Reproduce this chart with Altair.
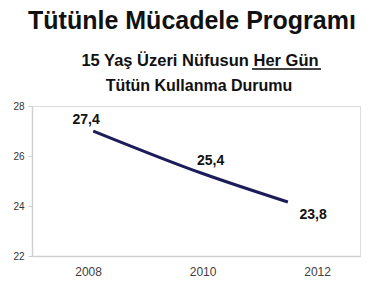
import altair as alt
import pandas as pd

# Values
line_years = [2008.09, 2010.0, 2011.49]
line_values = [27.0, 25.3, 24.16]

label_years = [2008, 2010, 2012]
label_values = [27.4, 25.4, 23.8]
label_texts = ["27,4", "25,4", "23,8"]

x_ticks = [2008, 2010, 2012]
y_ticks = [22, 24, 26, 28]

title_text = ["Tütünle Mücadele Programı"]
subtitle_1 = ["15 Yaş Üzeri Nüfusun Her Gün"]
subtitle_2 = ["Tütün Kullanma Durumu"]

line_df = pd.DataFrame({"year": line_years, "value": line_values})
label_df = pd.DataFrame({"year": label_years, "value": label_values, "text": label_texts})

FONT = "Liberation Sans"

x_scale = alt.Scale(domain=[2007.02, 2012.75], nice=False, zero=False)
y_scale = alt.Scale(domain=[22, 28], nice=False, zero=False)

x_axis = alt.Axis(values=x_ticks, format="d", title=None, grid=False, ticks=False,
                  domainColor="#d0d0d0", domainWidth=1.5, labelColor="#404040",
                  labelFontSize=12, labelFont=FONT, labelPadding=10)
y_axis = alt.Axis(values=y_ticks, title=None, grid=False, tickSize=4, tickColor="#d0d0d0",
                  domainColor="#d0d0d0", domainWidth=1.5, labelColor="#333333",
                  labelFontSize=10, labelFont=FONT, labelPadding=4)

line = alt.Chart(line_df).mark_line(color="#1c1c5a", strokeWidth=3, interpolate="monotone").encode(
    x=alt.X("year:Q", scale=x_scale, axis=x_axis),
    y=alt.Y("value:Q", scale=y_scale, axis=y_axis),
)

offsets = {2008: (-2, -1), 2010: (8, -10), 2012: (-4, 4)}
label_layers = []
for yr, (dx, dy) in offsets.items():
    label_layers.append(
        alt.Chart(label_df).transform_filter(alt.datum.year == yr)
        .mark_text(font=FONT, fontSize=14, fontWeight="bold", color="#111111",
                   dx=dx, dy=dy, baseline="middle", align="center")
        .encode(x=alt.X("year:Q", scale=x_scale), y=alt.Y("value:Q", scale=y_scale), text="text:N")
    )

def header(lines, size, x, y):
    df = pd.DataFrame({"t": lines})
    return alt.Chart(df).mark_text(font=FONT, fontSize=size, fontWeight="bold", color="#111111",
                                   align="center", baseline="alphabetic").encode(
        text="t:N", x=alt.value(x), y=alt.value(y))

title = header(title_text, 25, 160, -77)
sub1 = header(subtitle_1, 16.5, 168, -40)
sub2 = header(subtitle_2, 16, 167, -15)

underline = alt.Chart(label_df).mark_rule(color="#444444", strokeWidth=2).encode(
    x=alt.value(220), x2=alt.value(289), y=alt.value(-37)
)

chart = alt.layer(line, *label_layers, title, sub1, sub2, underline).properties(
    width=328, height=150,
    padding={"left": 32, "top": 106, "right": 25, "bottom": 32},
    autosize=alt.AutoSizeParams(type="none"),
).configure_view(stroke=None).configure(background="white")

chart.save("out.html", embed_options={"renderer": "svg", "actions": False})
